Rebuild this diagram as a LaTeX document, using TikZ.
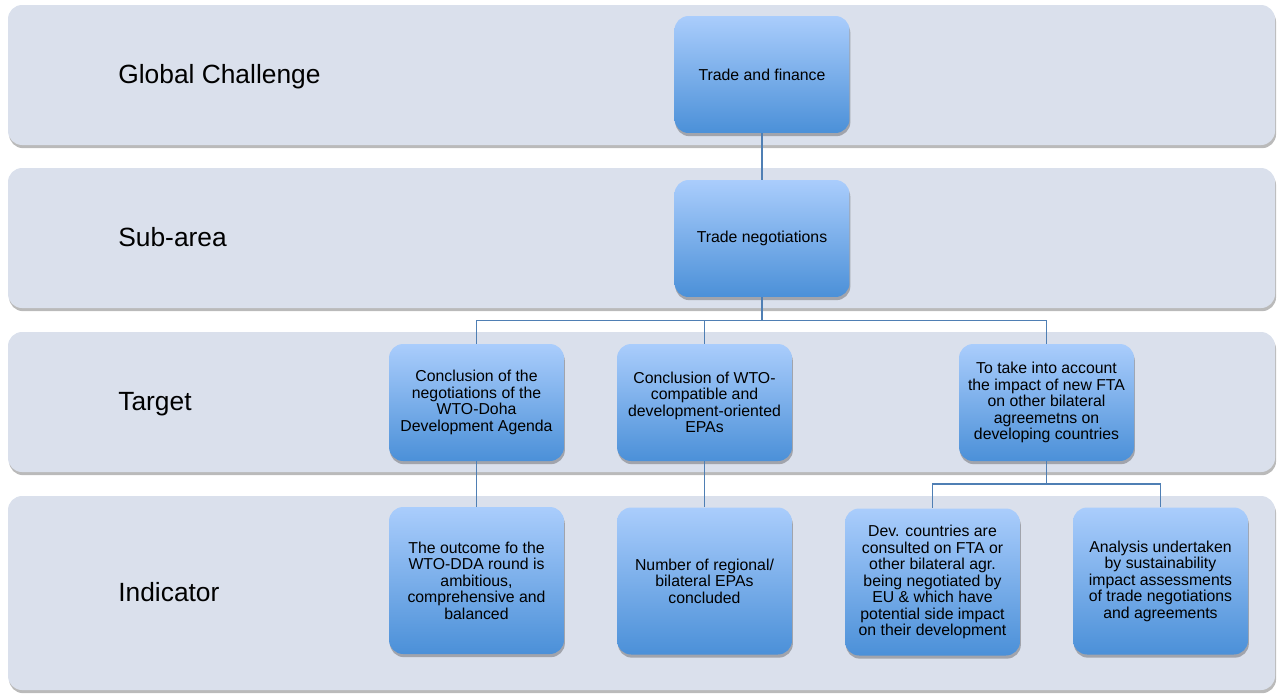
\documentclass[tikz,border=0pt]{standalone}
\usepackage{fontspec}
\setmainfont{Liberation Sans}
\usetikzlibrary{shadows}
\definecolor{bandfill}{HTML}{DAE0EC}
\definecolor{boxtop}{HTML}{AACDFC}
\definecolor{boxbot}{HTML}{4B90D8}
\definecolor{linkblue}{HTML}{4F7FB4}

\begin{document}
\begin{tikzpicture}[x=0.02cm, y=-0.02cm,
  band/.style={fill=bandfill, rounded corners=8pt,
    drop shadow={shadow xshift=0.6pt, shadow yshift=-1.8pt, opacity=.45, fill=black!60}},
  bandlabel/.style={anchor=base west, inner sep=0, font=\fontsize{15}{18}\selectfont},
  goal/.style={rounded corners=8pt, top color=boxtop, bottom color=boxbot,
    minimum width=3.5cm, minimum height=2.34cm, align=center, inner sep=2pt,
    font=\fontsize{9}{9.4}\selectfont,
    drop shadow={shadow xshift=0.5pt, shadow yshift=-1.8pt, opacity=.4, fill=black!70}},
  indic/.style={goal, minimum height=2.94cm},
  link/.style={draw=linkblue, line width=0.85pt}]
\useasboundingbox (0,0) rectangle (1277,694);
% bands with their labels
\foreach \yt/\yb/\nm/\txt in {5/145/gc/Global Challenge, 168/308/sub/Sub-area,
  332/472/tgt/Target, 496/690/ind/Indicator} {
  \path[band] (8,\yt) rectangle (1275,\yb);
  \node[bandlabel] (\nm) at (118,{(\yt+\yb)/2+8.5}) {\txt};
}
% boxes
\node[goal] (trade) at (762,74.5) {Trade and finance};
\node[goal] (nego) at (762,238.5) {Trade negotiations};
\node[goal] (doha) at (476.5,402.5) {Conclusion of the\\negotiations of the\\WTO-Doha\\Development Agenda};
\node[goal] (epa) at (704.5,402.5) {Conclusion of WTO-\\compatible and\\development-oriented\\EPAs};
\node[goal] (fta) at (1046.5,402.5) {To take into account\\the impact of new FTA\\on other bilateral\\agreemetns on\\developing countries};
\node[indic] (dda) at (476.5,580.5) {The outcome fo the\\WTO-DDA round is\\ambitious,\\comprehensive and\\balanced};
\node[indic] (regional) at (704.5,581) {Number of regional/\\bilateral EPAs\\concluded};
\node[indic] (consult) at (932.5,582) {Dev. countries are\\consulted on FTA or\\other bilateral agr.\\being negotiated by\\EU \& which have\\potential side impact\\on their development};
\node[indic] (sia) at (1160.5,581) {Analysis undertaken\\by sustainability\\impact assessments\\of trade negotiations\\and agreements};
% connectors
\coordinate (tbar) at (762,320.5);
\coordinate (ibar) at (1046.5,484);
\draw[link] (trade) -- (nego);
\draw[link] (nego) -- (tbar);
\draw[link] (tbar) -| (doha);
\draw[link] (tbar) -| (epa);
\draw[link] (tbar) -| (fta);
\draw[link] (doha) -- (dda);
\draw[link] (epa) -- (regional);
\draw[link] (fta) -- (ibar);
\draw[link] (ibar) -| (consult);
\draw[link] (ibar) -| (sia);
\end{tikzpicture}
\end{document}
